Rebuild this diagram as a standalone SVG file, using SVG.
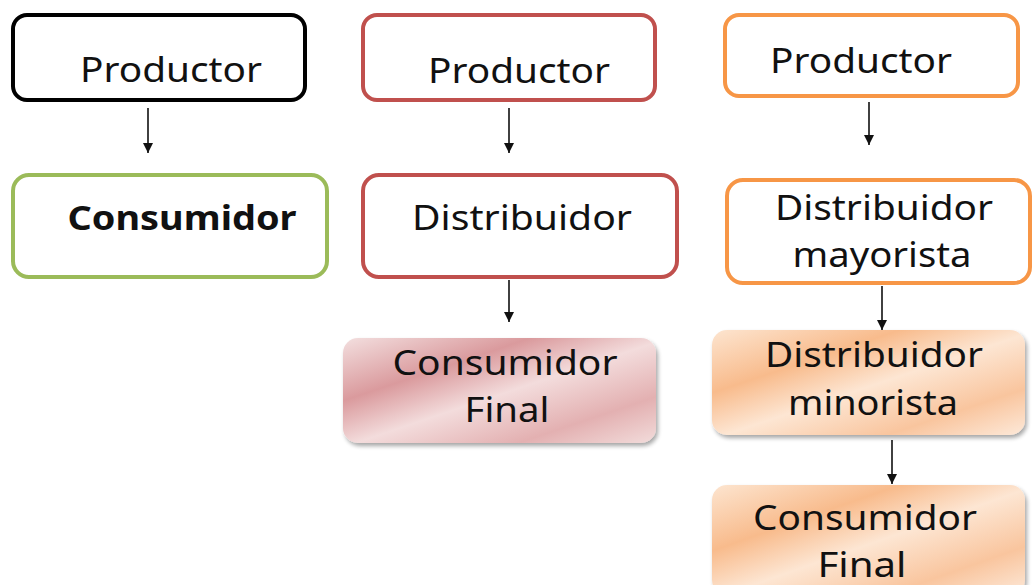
<svg xmlns="http://www.w3.org/2000/svg" width="1034" height="585" viewBox="0 0 1034 585">
<style>
text{font-family:"Noto Sans","Open Sans","DejaVu Sans",sans-serif;font-size:34px;fill:#111;text-anchor:middle}
.b{font-weight:bold}
.box{stroke-width:4;fill:#fff}
.conn line{stroke:#111;stroke-width:1.6}
</style>
<defs>
<marker id="ah" viewBox="0 0 10 10" refX="10" refY="5" markerWidth="10" markerHeight="10" markerUnits="userSpaceOnUse" orient="auto">
<path d="M0,0 L10,5 L0,10 Z" fill="#111"/>
</marker>
<linearGradient id="gp" x1="0" y1="0" x2="1" y2="1">
<stop offset="0" stop-color="#f3dfdf"/>
<stop offset="0.3" stop-color="#da9a9d"/>
<stop offset="0.52" stop-color="#f3dcdc"/>
<stop offset="0.78" stop-color="#e3b0b1"/>
<stop offset="1" stop-color="#f2dcdb"/>
</linearGradient>
<linearGradient id="go" x1="0" y1="0" x2="1" y2="1">
<stop offset="0" stop-color="#fde5d0"/>
<stop offset="0.3" stop-color="#f8bb8c"/>
<stop offset="0.52" stop-color="#fde6d3"/>
<stop offset="0.78" stop-color="#f9c59e"/>
<stop offset="1" stop-color="#fde9d9"/>
</linearGradient>
<filter id="sh" x="-5%" y="-5%" width="115%" height="120%">
<feGaussianBlur in="SourceAlpha" stdDeviation="2"/>
<feOffset dx="2" dy="3" result="o"/>
<feComponentTransfer><feFuncA type="linear" slope="0.35"/></feComponentTransfer>
<feMerge><feMergeNode/><feMergeNode in="SourceGraphic"/></feMerge>
</filter>
</defs>
<rect width="1034" height="585" fill="#fff"/>

<g id="n1">
<rect class="box" x="13" y="15" width="292" height="85" rx="14" stroke="#000"/>
<text x="171" y="82" textLength="182" lengthAdjust="spacingAndGlyphs">Productor</text>
</g>
<g id="n2">
<rect class="box" x="13" y="175" width="314" height="102" rx="16" stroke="#9bbb59"/>
<text class="b" x="182" y="230" textLength="229" lengthAdjust="spacingAndGlyphs">Consumidor</text>
</g>

<g id="n3">
<rect class="box" x="363" y="15" width="292" height="85" rx="14" stroke="#c0504d"/>
<text x="519" y="83" textLength="182" lengthAdjust="spacingAndGlyphs">Productor</text>
</g>
<g id="n4">
<rect class="box" x="363" y="175" width="314" height="102" rx="16" stroke="#c0504d"/>
<text x="522" y="230" textLength="220" lengthAdjust="spacingAndGlyphs">Distribuidor</text>
</g>
<g id="n5">
<rect x="343" y="338" width="313" height="105" rx="15" fill="url(#gp)" filter="url(#sh)"/>
<text x="505" y="375" textLength="225" lengthAdjust="spacingAndGlyphs">Consumidor</text>
<text x="507" y="422" textLength="85" lengthAdjust="spacingAndGlyphs">Final</text>
</g>

<g id="n6">
<rect class="box" x="725" y="15" width="293" height="81" rx="14" stroke="#f79646"/>
<text x="861" y="73" textLength="182" lengthAdjust="spacingAndGlyphs">Productor</text>
</g>
<g id="n7">
<rect class="box" x="727" y="180" width="303" height="103" rx="16" stroke="#f79646"/>
<text x="884" y="220" textLength="218" lengthAdjust="spacingAndGlyphs">Distribuidor</text>
<text x="882" y="267" textLength="179" lengthAdjust="spacingAndGlyphs">mayorista</text>
</g>
<g id="n8">
<rect x="712" y="330" width="313" height="105" rx="15" fill="url(#go)" filter="url(#sh)"/>
<text x="874" y="367" textLength="218" lengthAdjust="spacingAndGlyphs">Distribuidor</text>
<text x="873" y="415" textLength="170" lengthAdjust="spacingAndGlyphs">minorista</text>
</g>
<g id="n9">
<rect x="712" y="485" width="313" height="110" rx="15" fill="url(#go)" filter="url(#sh)"/>
<text x="865" y="530" textLength="224" lengthAdjust="spacingAndGlyphs">Consumidor</text>
<text x="862" y="577" textLength="89" lengthAdjust="spacingAndGlyphs">Final</text>
</g>

<g id="connectors" class="conn">
<line x1="148" y1="108" x2="148" y2="153" marker-end="url(#ah)"/>
<line x1="509" y1="108" x2="509" y2="153" marker-end="url(#ah)"/>
<line x1="509" y1="280" x2="509" y2="322" marker-end="url(#ah)"/>
<line x1="869" y1="102" x2="869" y2="145" marker-end="url(#ah)"/>
<line x1="882" y1="286" x2="882" y2="330" marker-end="url(#ah)"/>
<line x1="892" y1="440" x2="892" y2="484" marker-end="url(#ah)"/>
</g>
</svg>
